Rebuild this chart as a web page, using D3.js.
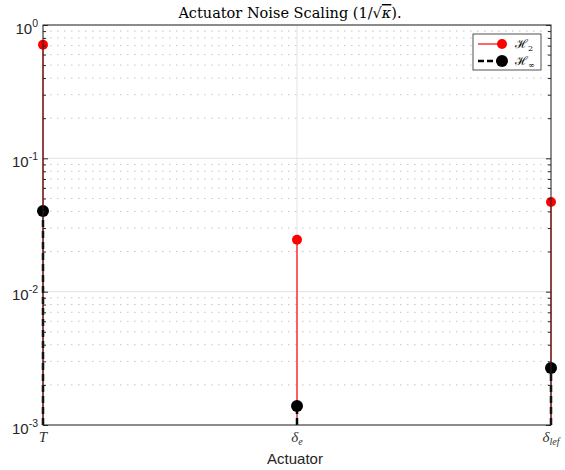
<!DOCTYPE html>
<html><head><meta charset="utf-8">
<script src="https://cdn.jsdelivr.net/npm/d3@7"></script>
<style>body{margin:0;background:#fff}</style>
</head><body>
<svg id="c" width="565" height="470"></svg>
<script>
const categories = ["T", "δe", "δlef"];
const h2Values = [0.71, 0.0245, 0.047];
const hinfValues = [0.0403, 0.00139, 0.00268];
const yTickExponents = [0, -1, -2, -3];

const svg = d3.select("#c");
const L = 43, R = 551, T = 25, B = 425;
const x = d3.scalePoint().domain(categories).range([L, R]);
const y = d3.scaleLog().domain([1e-3, 1]).range([B, T]);
const axisCol = "#262626";

const g = svg.append("g");
// minor grid
const minors = [];
for (let e = -3; e < 0; e++) for (let k = 2; k <= 9; k++) minors.push(k * Math.pow(10, e));
g.selectAll(".mg").data(minors).enter().append("line")
  .attr("x1", L).attr("x2", R).attr("y1", d => y(d)).attr("y2", d => y(d))
  .attr("stroke", "#c4c4c4").attr("stroke-width", 1).attr("stroke-dasharray", "1.5,5.5");
// major grid
g.selectAll(".Mg").data(yTickExponents.map(e => Math.pow(10, e))).enter().append("line")
  .attr("x1", L).attr("x2", R).attr("y1", d => y(d)).attr("y2", d => y(d))
  .attr("stroke", "#e3e3e3").attr("stroke-width", 1);
g.selectAll(".vg").data(categories).enter().append("line")
  .attr("x1", d => x(d)).attr("x2", d => x(d)).attr("y1", T).attr("y2", B)
  .attr("stroke", "#e3e3e3").attr("stroke-width", 1);

// stems
const h2 = categories.map((c, i) => ({c, v: h2Values[i]}));
const hinf = categories.map((c, i) => ({c, v: hinfValues[i]}));
g.selectAll(".s2").data(h2).enter().append("line")
  .attr("x1", d => x(d.c)).attr("x2", d => x(d.c)).attr("y1", B).attr("y2", d => y(d.v))
  .attr("stroke", "#ff0000").attr("stroke-width", 1.2);
g.selectAll(".sinf").data(hinf).enter().append("line")
  .attr("x1", d => x(d.c)).attr("x2", d => x(d.c)).attr("y1", B).attr("y2", d => y(d.v))
  .attr("stroke", "#000").attr("stroke-width", 2.5).attr("stroke-dasharray", "7,4");
g.selectAll(".m2").data(h2).enter().append("circle")
  .attr("cx", d => x(d.c)).attr("cy", d => y(d.v)).attr("r", 5).attr("fill", "#ff0000");
g.selectAll(".minf").data(hinf).enter().append("circle")
  .attr("cx", d => x(d.c)).attr("cy", d => y(d.v)).attr("r", 6).attr("fill", "#000");

// box
svg.append("rect").attr("x", L).attr("y", T).attr("width", R - L).attr("height", B - T)
  .attr("fill", "none").attr("stroke", axisCol).attr("stroke-width", 1);

// y ticks (inside)
const majors = yTickExponents.map(e => Math.pow(10, e));
function ticks(axisFn, pos, vals, size) {
  const a = svg.append("g").attr("transform", `translate(${pos},0)`)
    .call(axisFn(y).tickValues(vals).tickSize(-size).tickFormat(""));
  a.select(".domain").remove();
  a.selectAll("line").attr("stroke", axisCol);
}
ticks(d3.axisLeft, L, majors, 5);
ticks(d3.axisLeft, L, minors, 3);
ticks(d3.axisRight, R, majors, 5);
ticks(d3.axisRight, R, minors, 3);

// y tick labels
const yl = svg.append("g");
yTickExponents.forEach(e => {
  const t = yl.append("text").attr("x", L - 5).attr("y", y(Math.pow(10, e)) + 8.5)
    .attr("text-anchor", "end").attr("font-family", "Liberation Sans, Arial, sans-serif")
    .attr("font-size", 15).attr("fill", axisCol);
  t.append("tspan").text("10");
  t.append("tspan").attr("dy", -7).attr("font-size", 10.5).text(String(e));
});

// x tick labels
const xl = svg.append("g").attr("fill", "#333");
categories.forEach(c => {
  const t = xl.append("text").attr("x", x(c)).attr("y", B + 17).attr("text-anchor", "middle")
    .attr("font-size", 15).attr("font-style", "italic").attr("font-family", "Liberation Serif, serif");
  if (c === "T") t.text("T");
  else {
    t.append("tspan").text("δ");
    t.append("tspan").attr("dy", 3).attr("font-size", 10).text(c.slice(1));
  }
});
svg.append("text").attr("x", 295).attr("y", 464).attr("text-anchor", "middle")
  .attr("font-family", "Liberation Sans, Arial, sans-serif").attr("font-size", 15).attr("fill", axisCol).text("Actuator");

// title
const tt = svg.append("text").attr("x", 290).attr("y", 18).attr("text-anchor", "middle")
  .attr("font-family", "DejaVu Serif, serif").attr("font-size", 14.5).attr("fill", "#000");
tt.append("tspan").text("Actuator Noise Scaling (1/√");
tt.append("tspan").attr("font-style", "italic").attr("text-decoration", "overline").text("κ");
tt.append("tspan").text(").");

// legend
const lg = svg.append("g");
lg.append("rect").attr("x", 473).attr("y", 34).attr("width", 68).attr("height", 36)
  .attr("fill", "#fff").attr("stroke", axisCol).attr("stroke-width", 0.8);
const items = [{col: "#ff0000", dash: null, w: 1.2, r: 5, label: "2"}, {col: "#000", dash: "6,3", w: 2.5, r: 6, label: "∞"}];
items.forEach((it, i) => {
  const cy = 44 + i * 17;
  lg.append("line").attr("x1", 478).attr("x2", 502).attr("y1", cy).attr("y2", cy)
    .attr("stroke", it.col).attr("stroke-width", it.w).attr("stroke-dasharray", it.dash);
  lg.append("circle").attr("cx", 502).attr("cy", cy).attr("r", it.r).attr("fill", it.col);
  const t = lg.append("text").attr("x", 515).attr("y", cy + 4).attr("font-family", "DejaVu Serif, serif")
    .attr("font-size", 12).attr("fill", "#000");
  t.append("tspan").text("ℋ");
  t.append("tspan").attr("dy", 3).attr("font-size", 8).text(it.label);
});
</script>
</body></html>
